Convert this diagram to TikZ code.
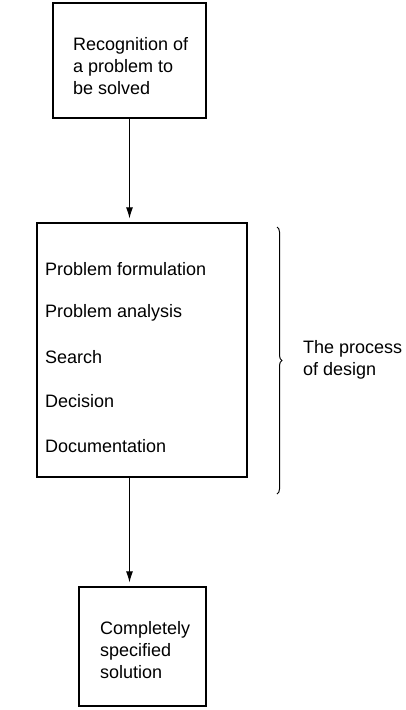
\documentclass[tikz,border=0pt]{standalone}
\usepackage{fontspec}
\setmainfont{Liberation Sans}
\usetikzlibrary{arrows.meta,decorations.pathreplacing}
\begin{document}
\begin{tikzpicture}[x=1pt,y=-1pt,
  txt/.style={font=\fontsize{18}{22}\selectfont, align=left, inner sep=0pt, anchor=west},
  box/.style={draw, line width=1.2pt, inner sep=0pt},
  arr/.style={-{Latex[length=11pt,width=7pt]}, line width=1pt, shorten >=4pt},
  bracket/.style={decorate, decoration={brace, amplitude=5pt}, line width=1pt}]
\useasboundingbox (0,0) rectangle (406,710);

% first stage
\node[box, minimum width=153pt, minimum height=115pt] (recog) at (129.5,60.5) {};
\node[txt] (recogText) at (73,66) {Recognition of\\a problem to\\be solved};

% the design process with its steps
\node[box, minimum width=210pt, minimum height=254pt] (design) at (142,350) {};
\node[txt] (s1) at (45,269) {Problem formulation};
\node[txt] (s2) at (45,313) {Problem analysis};
\node[txt] (s3) at (45,357) {Search};
\node[txt] (s4) at (45,401) {Decision};
\node[txt] (s5) at (45,446) {Documentation};

% outcome
\node[box, minimum width=127pt, minimum height=119pt] (result) at (142.5,646.5) {};
\node[txt] (resultText) at (100,650) {Completely\\specified\\solution};

% flow, on one vertical line
\draw[arr] (recog.south) -- (recog.south |- design.north);
\draw[arr] (design.south -| recog.south) -- (result.north -| recog.south);

% brace with its label
\coordinate (braceTop) at (277,227);
\coordinate (braceBot) at (277,494);
\draw[bracket] (braceTop) -- (braceBot);
\node[txt] (procLabel) at (303,360) {The process\\of design};
\end{tikzpicture}
\end{document}
